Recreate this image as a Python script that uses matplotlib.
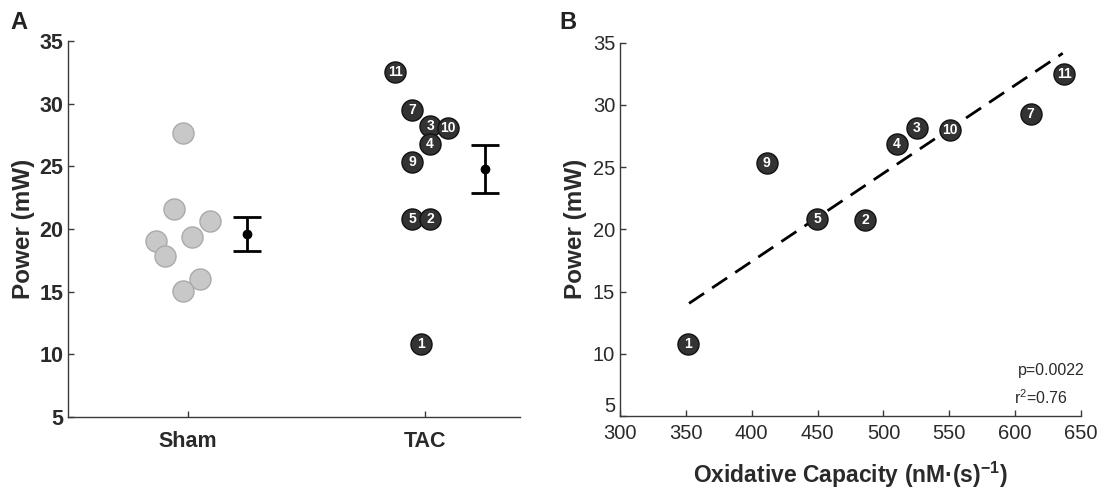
import numpy as np
import matplotlib
matplotlib.use('Agg')
import matplotlib.pyplot as plt

plt.rcParams['font.family'] = ['Liberation Sans', 'DejaVu Sans']
plt.rcParams['mathtext.fontset'] = 'custom'
plt.rcParams['mathtext.rm'] = 'Liberation Sans'
plt.rcParams['mathtext.bf'] = 'Liberation Sans:bold'

# ---- panel A data ----
group_names = ['Sham', 'TAC']
sham_x = [0.979, 0.941, 1.093, 0.865, 1.017, 0.903, 1.051, 0.979]
sham_y = [27.66, 21.6, 20.63, 19.04, 19.36, 17.84, 16.0, 15.05]
tac_ids = ['11', '7', '3', '10', '4', '9', '5', '2', '1']
tac_x = [1.873, 1.945, 2.021, 2.097, 2.021, 1.945, 1.945, 2.021, 1.983]
tac_y = [32.53, 29.49, 28.2, 28.06, 26.78, 25.34, 20.8, 20.8, 10.82]
mean_x = [1.249, 2.253]
mean_y = [19.6, 24.78]
mean_err = [1.35, 1.92]

# ---- panel B data ----
ids_b = ['1', '9', '5', '2', '4', '3', '10', '7', '11']
oxcap = [351.6, 411.4, 449.8, 486.0, 510.1, 525.3, 550.6, 611.8, 637.1]
power_b = [10.78, 25.3, 20.83, 20.75, 26.86, 28.12, 28.0, 29.27, 32.46]
fit_x = [352.4, 636.1]
fit_y = [14.05, 34.15]

axcol = '#3a3a3a'
txtcol = '#2a2a2a'
dark = '#333333'

fig = plt.figure(figsize=(11.04, 4.92), dpi=100)
axA = fig.add_axes([0.0616, 0.152, 0.4094, 0.765])
axB = fig.add_axes([0.5616, 0.1545, 0.4176, 0.7587])

for ax in (axA, axB):
    ax.spines['top'].set_visible(False)
    ax.spines['right'].set_visible(False)
    for s in ('left', 'bottom'):
        ax.spines[s].set_color(axcol)
        ax.spines[s].set_linewidth(1.0)
    ax.tick_params(direction='in', length=4, width=1, color=axcol,
                   labelcolor=txtcol, labelsize=14.5)
    ax.set_ylim(5, 35)
    ax.set_yticks(range(5, 36, 5))
    ax.set_ylabel('Power (mW)', fontsize=17.5, fontweight='bold', color=txtcol)

# panel A
axA.scatter(sham_x, sham_y, s=230, c='#c8c8c8', edgecolors='#aaaaaa', linewidths=1.0, zorder=3)
axA.scatter(tac_x, tac_y, s=230, c=dark, edgecolors='#111111', linewidths=1.0, zorder=3)
for i in range(len(tac_ids)):
    axA.text(tac_x[i], tac_y[i], tac_ids[i], color='white', fontsize=10, fontweight='bold',
             ha='center', va='center', zorder=4)
axA.errorbar(mean_x, mean_y, yerr=mean_err, fmt='o', color='black', ms=6,
             elinewidth=2, capsize=10, capthick=2, zorder=3)
axA.set_xlim(0.494, 2.4)
axA.set_xticks([1, 2])
axA.set_xticklabels(group_names)
axA.tick_params(labelsize=15.5)
for lab in axA.get_xticklabels() + axA.get_yticklabels():
    lab.set_fontweight('bold')
axA.tick_params(axis='x', pad=10)
axA.yaxis.labelpad = 3

# panel B
axB.plot(fit_x, fit_y, '--', color='black', lw=2, dashes=(6.5, 3.5), zorder=2)
axB.scatter(oxcap, power_b, s=230, c=dark, edgecolors='#111111', linewidths=1.0, zorder=3)
for i in range(len(ids_b)):
    axB.text(oxcap[i], power_b[i], ids_b[i], color='white', fontsize=10, fontweight='bold',
             ha='center', va='center', zorder=4)
axB.set_xlim(300, 650)
axB.set_xticks(range(300, 651, 50))
axB.tick_params(axis='x', pad=6)
axB.set_xlabel(r'Oxidative Capacity (nM·(s)$^{\mathbf{-1}}$)', fontsize=16.5,
               fontweight='bold', color=txtcol, labelpad=12)
axB.text(1.008, 0.123, 'p=0.0022', transform=axB.transAxes, ha='right', va='center',
         fontsize=11.5, color=txtcol)
axB.text(0.855, 0.05, r'r$^2$=0.76', transform=axB.transAxes, ha='left', va='center',
         fontsize=11.5, color=txtcol)
axB.yaxis.labelpad = 4
# bottom "5" sits just above the axis line like in the original
axB.get_yticklabels()[0].set_va('bottom')

fig.text(0.009, 0.955, 'A', fontsize=17, fontweight='bold', va='center', color='#222222')
fig.text(0.507, 0.955, 'B', fontsize=17, fontweight='bold', va='center', color='#222222')

fig.savefig('out.png', dpi=100)
